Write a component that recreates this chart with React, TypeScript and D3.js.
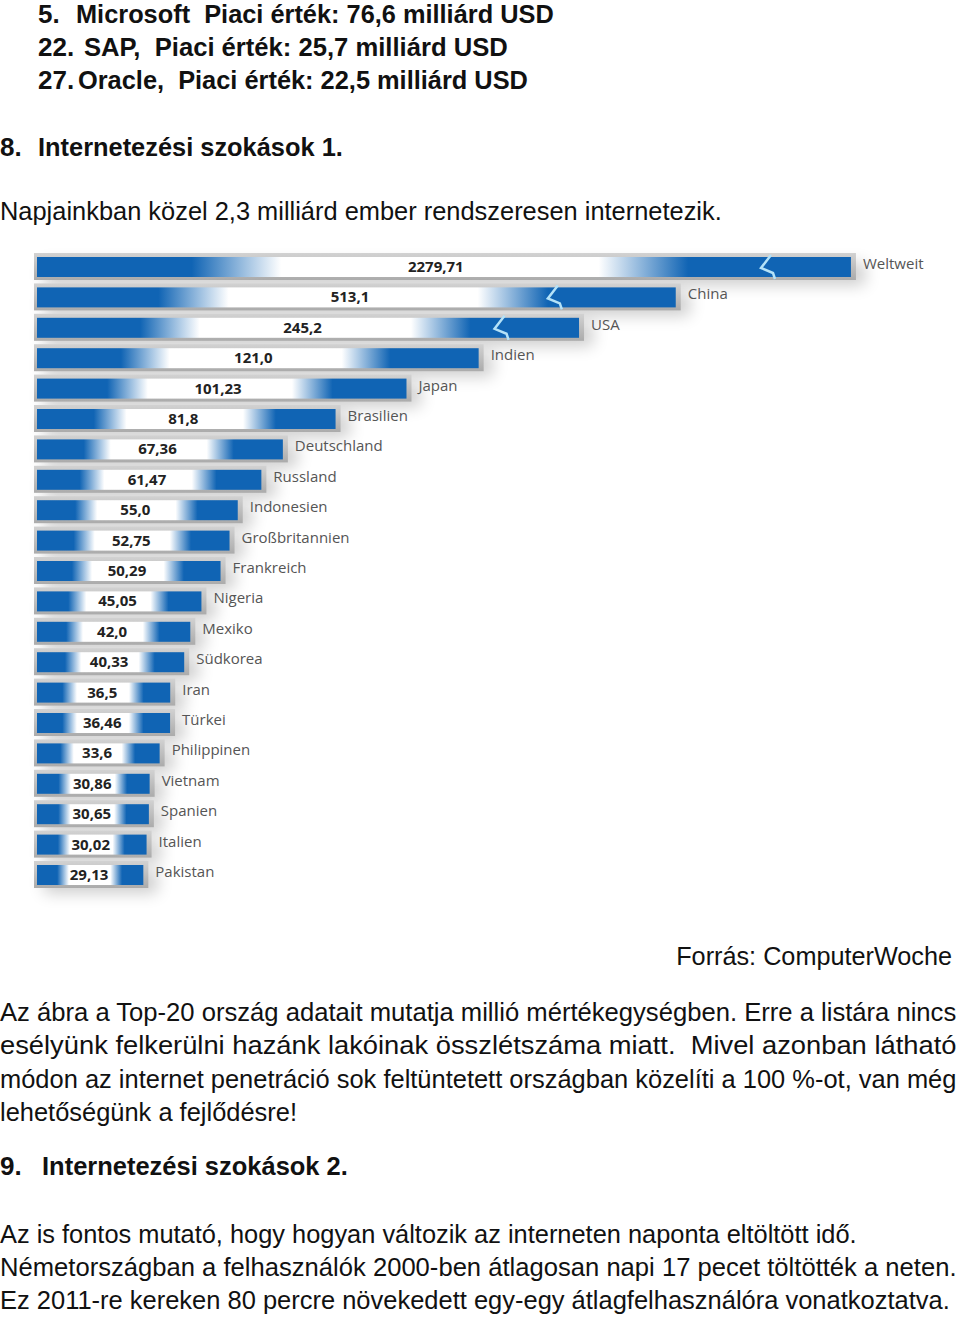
import React, { useLayoutEffect, useRef, useState } from "react";
import * as d3 from "d3";

// internet users, millions (ComputerWoche)
const countries = [
  "Weltweit", "China", "USA", "Indien", "Japan", "Brasilien", "Deutschland",
  "Russland", "Indonesien", "Großbritannien", "Frankreich", "Nigeria", "Mexiko",
  "Südkorea", "Iran", "Türkei", "Philippinen", "Vietnam", "Spanien", "Italien", "Pakistan",
];
const values = [
  2279.71, 513.1, 245.2, 121.0, 101.23, 81.8, 67.36, 61.47, 55.0, 52.75, 50.29,
  45.05, 42.0, 40.33, 36.5, 36.46, 33.6, 30.86, 30.65, 30.02, 29.13,
];
const valueLabels = [
  "2279,71", "513,1", "245,2", "121,0", "101,23", "81,8", "67,36", "61,47", "55,0",
  "52,75", "50,29", "45,05", "42,0", "40,33", "36,5", "36,46", "33,6", "30,86",
  "30,65", "30,02", "29,13",
];
// bars too long for the scale are cut: shown length and break mark, in scale units
const brokenCountries = ["Weltweit", "China", "USA"];
const brokenShown = [223, 175, 148.5];
const brokenZig = [200, 141.6, 127];

const topLines = [
  ["5.", "Microsoft  Piaci érték: 76,6 milliárd USD"],
  ["22.", "SAP,  Piaci érték: 25,7 milliárd USD"],
  ["27.", "Oracle,  Piaci érték: 22,5 milliárd USD"],
];
const paragraph = [
  "Az ábra a Top-20 ország adatait mutatja millió mértékegységben. Erre a listára nincs",
  "esélyünk felkerülni hazánk lakóinak összlétszáma miatt.  Mivel azonban látható",
  "módon az internet penetráció sok feltüntetett országban közelíti a 100 %-ot, van még",
  "lehetőségünk a fejlődésre!",
];
const bottomLines = [
  "Az is fontos mutató, hogy hogyan változik az interneten naponta eltöltött idő.",
  "Németországban a felhasználók 2000-ben átlagosan napi 17 pecet töltötték a neten.",
  "Ez 2011-re kereken 80 percre növekedett egy-egy átlagfelhasználóra vonatkoztatva.",
];

const W = 960;
const H = 1318;
const BLUE = "#1064b4";
const FONT = "'Liberation Sans', Arial, sans-serif";
const CHART_FONT = "'Open Sans', 'Noto Sans', sans-serif";

// text squeezed horizontally to a given width (the document text is condensed)
function T({ x, y, w, bold, anchor, children }: any) {
  const ref = useRef<SVGTextElement>(null);
  const [sx, setSx] = useState(1);
  useLayoutEffect(() => {
    if (!w || !ref.current) return;
    const natural = ref.current.getComputedTextLength();
    if (natural > 0) setSx(w / natural);
  }, [w, children]);
  return (
    <g transform={`translate(${x},${y}) scale(${sx},1)`}>
      <text
        ref={ref}
        fontFamily={FONT}
        fontSize={26}
        fontWeight={bold ? "bold" : "normal"}
        fill="#111"
        textAnchor={anchor || "start"}
        xmlSpace="preserve"
        style={{ whiteSpace: "pre" }}
      >
        {children}
      </text>
    </g>
  );
}

export default function App() {
  const x = d3.scaleLinear().domain([0, 130]).range([37, 37 + 130 * 3.65]);
  const y = d3.scalePoint().domain(countries).range([267, 875]);
  const barH = 20;
  const zig = d3.line();

  const rows = countries.map((c, i) => {
    const b = brokenCountries.indexOf(c);
    const shown = b >= 0 ? brokenShown[b] : values[i];
    return {
      c,
      label: valueLabels[i],
      x1: x(shown),
      zx: b >= 0 ? x(brokenZig[b]) : null,
      mid: x(shown * 0.49),
      cy: y(c) as number,
    };
  });

  return (
    <svg width={W} height={H} style={{ position: "absolute", left: 0, top: 0, background: "#fff" }}>
      <defs>
        <linearGradient id="barFill" x1="0" x2="1" y1="0" y2="0">
          <stop offset="0" stopColor={BLUE} />
          <stop offset="0.19" stopColor={BLUE} />
          <stop offset="0.3" stopColor="#fff" />
          <stop offset="0.69" stopColor="#fff" />
          <stop offset="0.8" stopColor={BLUE} />
          <stop offset="1" stopColor={BLUE} />
        </linearGradient>
        <linearGradient id="frameFill" x1="0" x2="0" y1="0" y2="1">
          <stop offset="0" stopColor="#d2d2d2" />
          <stop offset="1" stopColor="#ababab" />
        </linearGradient>
        <filter id="blur" x="-20%" y="-100%" width="140%" height="300%">
          <feGaussianBlur stdDeviation="8" />
        </filter>
      </defs>

      {topLines.map(([n, t], i) => (
        <g key={n}>
          <T x={38} y={23 + i * 33} bold>{n}</T>
          <T x={[76, 84, 78][i]} y={23 + i * 33} w={[478, 424, 450][i]} bold>{t}</T>
        </g>
      ))}
      <T x={0} y={156} bold>8.</T>
      <T x={38} y={156} w={305} bold>Internetezési szokások 1.</T>
      <T x={0} y={220} w={722}>Napjainkban közel 2,3 milliárd ember rendszeresen internetezik.</T>

      <g>
        {rows.map((r) => (
          <rect key={"s" + r.c} x={44} y={r.cy - 4} width={r.x1 - 30} height={22}
            fill="#000" opacity={0.2} filter="url(#blur)" />
        ))}
        {rows.map((r) => (
          <g key={r.c}>
            <rect x={34} y={r.cy - 14} width={r.x1 - 34 + 5} height={27} fill="url(#frameFill)" />
            <rect x={37} y={r.cy - barH / 2} width={r.x1 - 37} height={barH} fill="url(#barFill)" />
            {r.zx != null && (
              <path
                d={zig([[r.zx + 4, r.cy - 12], [r.zx - 6, r.cy + 1], [r.zx + 6, r.cy + 6], [r.zx + 8, r.cy + 12]]) as string}
                fill="none" stroke="#b4e2f8" strokeWidth={2.5}
              />
            )}
            <text x={r.mid} y={r.cy + 5} textAnchor="middle" fontFamily={CHART_FONT}
              fontWeight="bold" fontSize={15} fill="#222">{r.label}</text>
            <text x={r.x1 + 12} y={r.cy + 2} fontFamily={CHART_FONT} fontSize={15} fill="#555">{r.c}</text>
          </g>
        ))}
      </g>

      <T x={952} y={965} w={276} anchor="end">Forrás: ComputerWoche</T>
      {paragraph.map((t, i) => (
        <T key={i} x={0} y={1021 + i * 33.4} w={i < 3 ? 957 : 297}>{t}</T>
      ))}
      <T x={0} y={1175} bold>9.</T>
      <T x={42} y={1175} w={306} bold>Internetezési szokások 2.</T>
      {bottomLines.map((t, i) => (
        <T key={i} x={0} y={1243 + i * 33} w={[857, 957, 950][i]}>{t}</T>
      ))}
    </svg>
  );
}
